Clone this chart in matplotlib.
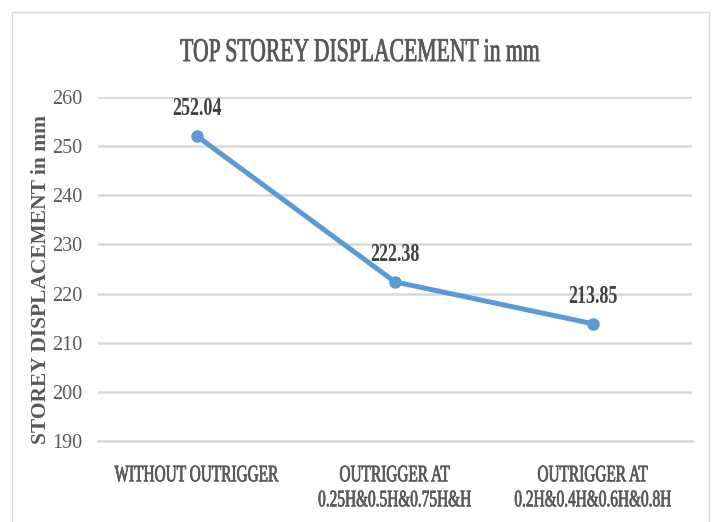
import matplotlib
matplotlib.use("Agg")
import matplotlib.pyplot as plt
from matplotlib.patches import Rectangle
from matplotlib import font_manager, patheffects
from fontTools.ttLib import TTFont

kategorier = ["WITHOUT OUTRIGGER", "OUTRIGGER AT\n0.25H&0.5H&0.75H&H", "OUTRIGGER AT\n0.2H&0.4H&0.6H&0.8H"]
forskyvning = [252.04, 222.38, 213.85]
y_ticks = [190, 200, 210, 220, 230, 240, 250, 260]


def lag_smal_skrift(vekt, sx, navn):
    # lager en sammentrykt kopi av Liberation Serif (ingen smal serif er installert)
    kilde = font_manager.findfont(font_manager.FontProperties(family="Liberation Serif", weight=vekt))
    f = TTFont(kilde)
    glyf = f["glyf"]
    for g_navn in f.getGlyphOrder():
        g = glyf[g_navn]
        if g.isComposite():
            for k in g.components:
                k.x = round(k.x * sx)
        elif g.numberOfContours > 0:
            c = g.coordinates
            for i in range(len(c)):
                c[i] = (round(c[i][0] * sx), c[i][1])
        g.recalcBounds(glyf)
    hmtx = f["hmtx"].metrics
    for g_navn, (adv, lsb) in list(hmtx.items()):
        hmtx[g_navn] = (round(adv * sx), round(lsb * sx))
    if "kern" in f:
        for tab in f["kern"].kernTables:
            for par in tab.kernTable:
                tab.kernTable[par] = round(tab.kernTable[par] * sx)
    for t in ["hdmx", "LTSH", "VDMX"]:
        if t in f:
            del f[t]
    for rec in f["name"].names:
        if rec.nameID in (1, 16):
            rec.string = navn
        elif rec.nameID in (3, 4):
            rec.string = navn + " " + vekt
        elif rec.nameID == 6:
            rec.string = navn.replace(" ", "") + "-" + vekt
    fil = navn.replace(" ", "") + ".ttf"
    f.save(fil)
    font_manager.fontManager.addfont(fil)
    return navn


smal = lag_smal_skrift("normal", 0.65, "Smal Serif")
smal_fet = lag_smal_skrift("bold", 0.70, "Smal Serif Fet")
skrift = "Liberation Serif"
grå = "#595959"
strek = [patheffects.withStroke(linewidth=0.5, foreground=grå)]

fig = plt.figure(figsize=(7.13, 5.22), dpi=100)
ax = fig.add_axes([0.1374, 0.1552, 0.833, 0.659])
fig.patches.append(Rectangle((0.0168, -0.01), 0.978, 0.987, transform=fig.transFigure,
                             fill=False, edgecolor="#d9d9d9", linewidth=1))

x = list(range(len(kategorier)))
ax.plot(x, forskyvning, color="#5b9bd5", linewidth=3.6, marker="o", markersize=8,
        solid_capstyle="round", solid_joinstyle="round")
for xi, v in zip(x, forskyvning):
    ax.annotate(f"{v:.2f}", (xi, v), xytext=(0, 15), textcoords="offset points",
                ha="center", va="baseline", fontsize=18.5, color="#404040",
                family=smal_fet, fontweight="bold")

ax.set_xlim(-0.5, 2.5)
ax.set_ylim(190, 260)
ax.set_yticks(y_ticks)
ax.set_xticks(x)
ax.set_xticklabels(kategorier, fontsize=17, color=grå, family=smal, linespacing=1.25)
for t in ax.get_xticklabels():
    t.set_path_effects(strek)
for t in ax.get_yticklabels():
    t.set_fontsize(14.5)
    t.set_color(grå)
    t.set_fontfamily(skrift)
ax.grid(axis="y", color="#d9d9d9", linewidth=1.8)
ax.set_axisbelow(True)
for s in ["top", "right", "left"]:
    ax.spines[s].set_visible(False)
ax.spines["bottom"].set_color("#d9d9d9")
ax.spines["bottom"].set_linewidth(1.8)
ax.tick_params(length=0)
ax.tick_params(axis="y", pad=11)
ax.tick_params(axis="x", pad=17.5)
ax.set_ylabel("STOREY DISPLACEMENT in mm", fontsize=15.5, fontweight="bold", color=grå,
              family=skrift)
ax.yaxis.set_label_coords(-0.079, 0.47)
fig.text(0.505, 0.883, "TOP STOREY DISPLACEMENT in mm", ha="center", va="baseline",
         fontsize=24, color=grå, family=smal, path_effects=strek)

fig.savefig("out.png", dpi=100)
